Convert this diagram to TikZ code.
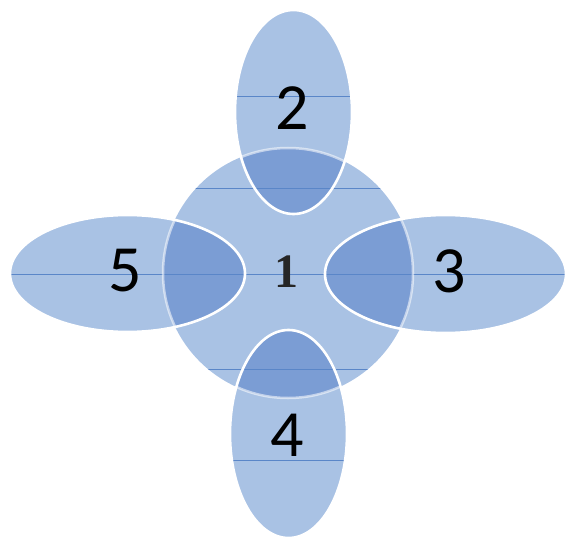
\documentclass[tikz,border=0pt]{standalone}
\usepackage{fontspec}
\setmainfont{Carlito}
\newfontfamily\serifnum{Liberation Serif}
\definecolor{petal}{HTML}{A9C2E4}
\definecolor{overlap}{HTML}{7B9DD4}
\definecolor{hline}{HTML}{5A86C8}
\tikzset{
  shapefill/.style={fill=petal},
  ringline/.style={draw=white,line width=2.6pt},
  midline/.style={draw=hline,line width=0.6pt},
  digit/.style={font=\fontsize{66}{70}\selectfont,text=black,inner sep=0pt},
  centredigit/.style={font=\serifnum\bfseries\fontsize{48}{52}\selectfont,text=black!85,inner sep=0pt}
}
\begin{document}
\begin{tikzpicture}[x=1pt,y=-1pt]
\useasboundingbox (0,0) rectangle (567,540);
\def\circpath{(288,273) circle [radius=125]}
\def\topE{(293.5,112) ellipse [x radius=58.5,y radius=102]}
\def\botE{(288.5,434) ellipse [x radius=58.5,y radius=104]}
\def\leftE{(127.5,273.5) ellipse [x radius=117.5,y radius=58.5]}
\def\rightE{(445.5,274) ellipse [x radius=120.5,y radius=59]}
% centre circle
\fill[petal] \circpath;
\begin{scope}
  \clip \circpath;
  \draw[midline] (150,188) -- (430,188);
  \draw[midline] (150,369) -- (430,369);
\end{scope}
% petals
\foreach \E in {\topE,\botE,\leftE,\rightE}{
  \fill[petal] \E;
}
% overlaps
\foreach \E in {\topE,\botE,\leftE,\rightE}{
  \begin{scope}
    \clip \circpath;
    \fill[overlap] \E;
  \end{scope}
}
% lines across petals
\begin{scope}
  \clip \topE; \draw[midline] (220,96) -- (370,96);
\end{scope}
\begin{scope}
  \clip \botE; \draw[midline] (220,460) -- (370,460);
\end{scope}
\begin{scope}
  \clip \botE; \clip \circpath; \draw[midline] (220,369) -- (370,369);
\end{scope}
\begin{scope}
  \clip \topE; \clip \circpath; \draw[midline] (220,188) -- (370,188);
\end{scope}
\draw[midline] (10,274) -- (566,274);
% circle edge seen through petals
\foreach \E in {\topE,\botE,\leftE,\rightE}{
  \begin{scope}
    \clip \E;
    \draw[white,opacity=0.55,line width=2.5pt] \circpath;
  \end{scope}
}
% white rims of petals
\foreach \E in {\topE,\botE,\leftE,\rightE}{
  \draw[ringline] \E;
}
% labels
\node[digit] (n2) at (292,108) {2};
\node[digit] (n5) at (125,271) {5};
\node[digit] (n3) at (449,271) {3};
\node[digit] (n4) at (287,435) {4};
\node[centredigit] (n1) at (286,272) {1};
\end{tikzpicture}
\end{document}
